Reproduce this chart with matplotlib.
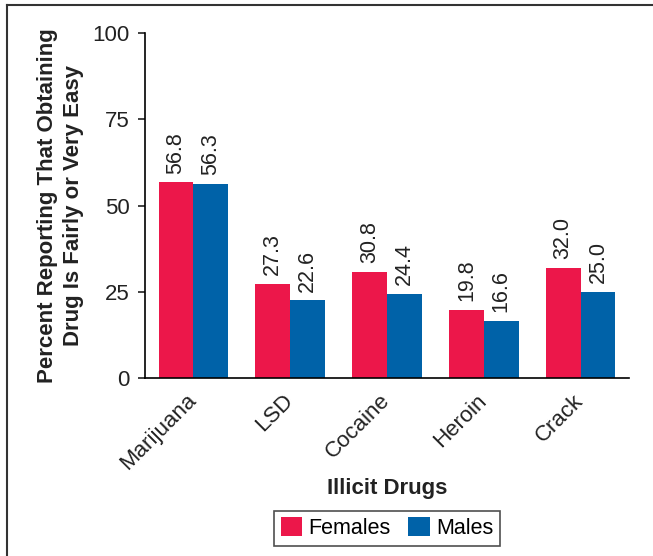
import matplotlib.pyplot as plt
import numpy as np

# Datos
drogas = ['Marijuana', 'LSD', 'Cocaine', 'Heroin', 'Crack']
mujeres = [56.8, 27.3, 30.8, 19.8, 32.0]
hombres = [56.3, 22.6, 24.4, 16.6, 25.0]

color_mujeres = '#EC174A'
color_hombres = '#0062A8'

plt.rcParams['font.family'] = ['Liberation Sans', 'DejaVu Sans']

fig = plt.figure(figsize=(6.53, 5.56), dpi=100)
ax = fig.add_axes([145/653, 1 - 378/556, (629-145)/653, (378-33)/556])

x = np.arange(len(drogas))
ancho = 0.36
b1 = ax.bar(x - ancho/2, mujeres, ancho, color=color_mujeres, label='Females')
b2 = ax.bar(x + ancho/2, hombres, ancho, color=color_hombres, label='Males')

# Etiquetas de valores
for barras in (b1, b2):
    ax.bar_label(barras, fmt='%.1f', rotation=90, padding=6, fontsize=15.5, color='#222222')

ax.set_xlim(-0.5, 4.5)
ax.set_ylim(0, 100)
ax.set_yticks([0, 25, 50, 75, 100])
ax.tick_params(axis='y', labelsize=16, length=5, width=1.2, colors='#222222', pad=6)
ax.tick_params(axis='x', length=0, labelsize=16, colors='#222222', pad=14)
ax.set_xticks(x)
ax.set_xticklabels(drogas, rotation=45, ha='right', va='center', rotation_mode='anchor')

ax.spines['top'].set_visible(False)
ax.spines['right'].set_visible(False)
ax.spines['left'].set_linewidth(1.2)
ax.spines['bottom'].set_linewidth(1.2)

ax.set_ylabel('Percent Reporting That Obtaining\nDrug Is Fairly or Very Easy',
              fontsize=16, fontweight='bold', color='#222222', linespacing=1.35)
ax.yaxis.set_label_coords(-0.125, 0.5)
ax.set_xlabel('Illicit Drugs', fontsize=16, fontweight='bold', color='#222222')
ax.xaxis.set_label_coords(0.5, -0.29)

leg = ax.legend(loc='center', bbox_to_anchor=(0.5, -0.435), ncol=2, fontsize=15.5,
                frameon=True, fancybox=False, edgecolor='#222222',
                handlelength=1.0, handleheight=1.0, handletextpad=0.3,
                columnspacing=0.8, borderpad=0.3)
leg.get_frame().set_linewidth(1.2)

# Marco de la figura (linea superior e izquierda)
fig.add_artist(plt.Line2D([7/653, 1], [1 - 5/556, 1 - 5/556], color='#333333', lw=1.5))
fig.add_artist(plt.Line2D([7/653, 7/653], [0, 1 - 5/556], color='#333333', lw=1.5))

fig.savefig('out.png', dpi=100)
